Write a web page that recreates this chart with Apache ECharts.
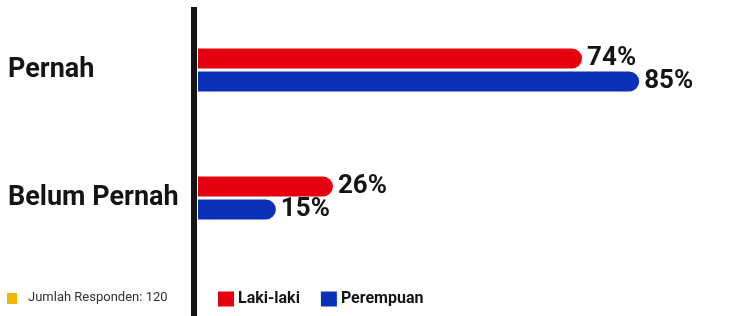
<!DOCTYPE html>
<html>
<head>
<meta charset="utf-8">
<script src="https://cdn.jsdelivr.net/npm/echarts@6/dist/echarts.min.js"></script>
<style>
  html, body { margin: 0; padding: 0; background: #fff; }
  #chart { width: 739px; height: 316px; }
</style>
</head>
<body>
<div id="chart"></div>
<script>
// data
const categories = ["Pernah", "Belum Pernah"];
const lakiLaki = [74, 26];
const perempuan = [85, 15];
const respondenNote = "Jumlah Responden: 120";

const RED = "#e3000f";
const BLUE = "#0a30b8";
const INK = "#141414";

const chart = echarts.init(document.getElementById("chart"));

function barSeries(name, values, color) {
  return {
    name: name,
    type: "bar",
    data: values,
    barWidth: 20,
    barGap: "15%",
    itemStyle: { color: color, borderRadius: [0, 10, 10, 0] },
    label: {
      show: true,
      position: "right",
      distance: 5,
      formatter: "{c}%",
      color: INK,
      fontFamily: "Roboto",
      fontWeight: "bold",
      fontSize: 26,
    },
  };
}

chart.setOption({
  animation: false,
  grid: { left: 198, right: 22, top: 6, height: 256 },
  xAxis: {
    type: "value",
    min: 0,
    max: 100,
    show: false,
  },
  yAxis: {
    type: "category",
    data: categories,
    inverse: true,
    axisLine: { show: false },
    axisTick: { show: false },
    axisLabel: {
      align: "left",
      margin: 190,
      color: INK,
      fontFamily: "Roboto",
      fontWeight: "bold",
      fontSize: 27,
      padding: [8, 0, 0, 0],
    },
  },
  legend: {
    left: 213,
    top: 286,
    itemWidth: 16,
    itemHeight: 15,
    itemGap: 21,
    icon: "rect",
    textStyle: {
      color: INK,
      fontFamily: "Roboto",
      fontWeight: "bold",
      fontSize: 16,
      padding: [0, 0, 0, -1],
    },
    data: ["Laki-laki", "Perempuan"],
  },
  graphic: [
    // thick vertical rule
    { type: "rect", left: 191, top: 7, shape: { width: 6, height: 309 }, style: { fill: INK } },
    { type: "rect", left: 7, top: 293, shape: { width: 10, height: 11 }, style: { fill: "#f2b705" } },
    {
      type: "text", left: 28, top: 291,
      style: { text: respondenNote, fill: "#333", font: "13px Roboto" },
    },
  ],
  series: [
    barSeries("Laki-laki", lakiLaki, RED),
    barSeries("Perempuan", perempuan, BLUE),
  ],
});
</script>
</body>
</html>
